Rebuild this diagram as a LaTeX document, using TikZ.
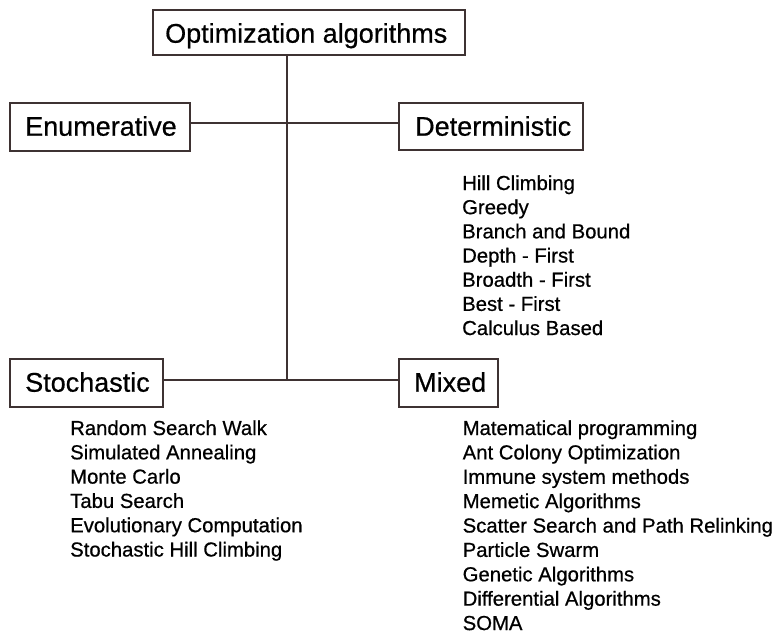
\documentclass[tikz,border=0pt]{standalone}
\usepackage{fontspec}
\setmainfont{Liberation Sans}[RawFeature={embolden=0.6}]
\definecolor{linec}{RGB}{62,50,50}
\begin{document}
\begin{tikzpicture}[x=1pt,y=-1pt,
  hbox/.style={draw=linec,line width=1.2pt,inner sep=0pt,fill=white},
  htext/.style={inner sep=0pt,anchor=base west,font=\fontsize{27}{30}\selectfont},
  ltext/.style={inner sep=0pt,anchor=base west,font=\fontsize{20.3}{24}\selectfont},
  conn/.style={draw=linec,line width=1.2pt}]
\useasboundingbox (0,0) rectangle (776,633);
% boxes
\node[hbox,minimum width=312pt,minimum height=45pt] (top) at (309,32.5) {};
\node[hbox,minimum width=180pt,minimum height=48pt] (enum) at (100,127) {};
\node[hbox,minimum width=184pt,minimum height=47pt] (det) at (491,126.5) {};
\node[hbox,minimum width=153pt,minimum height=48pt] (stoch) at (86.5,383) {};
\node[hbox,minimum width=99pt,minimum height=48pt] (mixed) at (448.5,383) {};
% junctions
\coordinate (j1) at (287,123);
\coordinate (j2) at (287,380);
% connectors
\draw[conn] (top.south -| j1) -- (j2);
\draw[conn] (enum.east |- j1) -- (det.west |- j1);
\draw[conn] (stoch.east |- j2) -- (mixed.west |- j2);
% headings
\node[htext] (toptxt) at (165,42.7) {Optimization algorithms};
\node[htext] (enumtxt) at (25,135.7) {Enumerative};
\node[htext] (dettxt) at (415,135.7) {Deterministic};
\node[htext] (stochtxt) at (25,391.7) {Stochastic};
\node[htext] (mixedtxt) at (414,391.7) {Mixed};
% lists
\foreach \t [count=\i from 0] in {Hill Climbing,Greedy,Branch and Bound,Depth - First,Broadth - First,Best - First,Calculus Based}
  \node[ltext] (d\i) at (462,190+24.17*\i) {\t};
\foreach \t [count=\i from 0] in {Random Search Walk,Simulated Annealing,Monte Carlo,Tabu Search,Evolutionary Computation,Stochastic Hill Climbing}
  \node[ltext] (s\i) at (70,435+24.3*\i) {\t};
\foreach \t [count=\i from 0] in {Matematical programming,Ant Colony Optimization,Immune system methods,Memetic Algorithms,Scatter Search and Path Relinking,Particle Swarm,Genetic Algorithms,Differential Algorithms,SOMA}
  \node[ltext] (m\i) at (462.5,435+24.38*\i) {\t};
\end{tikzpicture}
\end{document}
